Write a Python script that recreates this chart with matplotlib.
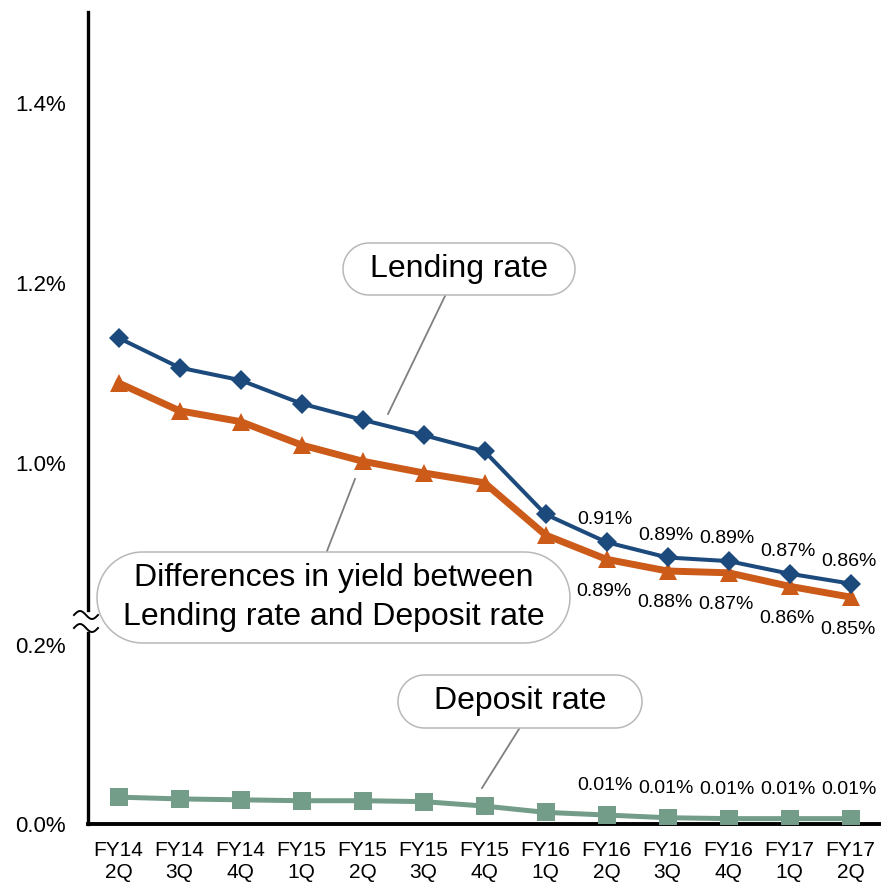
import numpy as np
import matplotlib
matplotlib.use("Agg")
import matplotlib.pyplot as plt
from matplotlib.patches import Polygon
from matplotlib.lines import Line2D
from matplotlib.transforms import IdentityTransform

plt.rcParams["font.family"] = ["Liberation Sans", "DejaVu Sans"]

quarters = ["FY14\n2Q", "FY14\n3Q", "FY14\n4Q", "FY15\n1Q", "FY15\n2Q", "FY15\n3Q", "FY15\n4Q",
            "FY16\n1Q", "FY16\n2Q", "FY16\n3Q", "FY16\n4Q", "FY17\n1Q", "FY17\n2Q"]
lending = [1.139, 1.106, 1.092, 1.066, 1.048, 1.031, 1.013, 0.943, 0.912, 0.895, 0.891, 0.877, 0.866]
spread = [1.089, 1.058, 1.046, 1.020, 1.002, 0.989, 0.978, 0.920, 0.893, 0.880, 0.878, 0.863, 0.851]
deposit = [0.030, 0.028, 0.027, 0.026, 0.026, 0.025, 0.020, 0.013, 0.010, 0.007, 0.006, 0.006, 0.006]
lending_lbl = {8: "0.91%", 9: "0.89%", 10: "0.89%", 11: "0.87%", 12: "0.86%"}
spread_lbl = {8: "0.89%", 9: "0.88%", 10: "0.87%", 11: "0.86%", 12: "0.85%"}
deposit_lbl = {8: "0.01%", 9: "0.01%", 10: "0.01%", 11: "0.01%", 12: "0.01%"}

BLUE, ORANGE, GREEN = "#1d4a7c", "#cc5a19", "#739d88"
W, H = 881, 882
PIX = IdentityTransform()  # display pixels, origin bottom-left (dpi 100 = savefig dpi)


def fx(x):
    return x / W


def fy(y):
    return 1 - y / H


fig = plt.figure(figsize=(W / 100, H / 100), dpi=100)
ax_top = fig.add_axes([fx(88), fy(620), fx(881) - fx(88), fy(12) - fy(620)])
ax_bot = fig.add_axes([fx(88), fy(824), fx(881) - fx(88), fy(620) - fy(824)])

x = np.arange(len(quarters))
ax_top.plot(x, lending, color=BLUE, lw=2.9, marker="D", ms=10.5, mew=0, zorder=4)
ax_top.plot(x, spread, color=ORANGE, lw=5, marker="^", ms=13, mew=0, zorder=3)
ax_bot.plot(x, deposit, color=GREEN, lw=3.6, marker="s", ms=12.5, mew=0, zorder=3)

for i, t in lending_lbl.items():
    ax_top.annotate(t, (x[i], lending[i]), xytext=(-1, 16), textcoords="offset points",
                    ha="center", va="center", fontsize=14)
for i, t in spread_lbl.items():
    ax_top.annotate(t, (x[i], spread[i]), xytext=(-2, -23), textcoords="offset points",
                    ha="center", va="center", fontsize=14)
for i, t in deposit_lbl.items():
    ax_bot.annotate(t, (x[i], deposit[i]), xytext=(-1, 21), textcoords="offset points",
                    ha="center", va="center", fontsize=14)

top_lo = 1.0 - (620 - 463) / 900
top_hi = 1.4 + (103 - 12) / 900
bot_hi = 0.2 + (645 - 620) / 900
ax_top.set_ylim(top_lo, top_hi)
ax_bot.set_ylim(0, bot_hi)
for a in (ax_top, ax_bot):
    a.set_xlim(-0.5, 12.5)
    for s in ("top", "right"):
        a.spines[s].set_visible(False)
    a.spines["left"].set_linewidth(2.4)
    a.tick_params(axis="y", length=0, pad=16, labelsize=16)
    a.set_facecolor("none")

ax_top.spines["bottom"].set_visible(False)
ax_top.set_xticks([])
ax_top.set_yticks([1.0, 1.2, 1.4])
ax_top.set_yticklabels(["1.0%", "1.2%", "1.4%"])
ax_top.spines["left"].set_bounds(1.0 - (610 - 463) / 900, top_hi)

ax_bot.set_yticks([0.0, 0.2])
ax_bot.set_yticklabels(["0.0%", "0.2%"])
ax_bot.set_xticks(x)
ax_bot.set_xticklabels(quarters, fontsize=15, linespacing=1.2)
ax_bot.tick_params(axis="x", length=0, pad=12)
ax_bot.spines["bottom"].set_linewidth(2.8)
ax_bot.spines["left"].set_bounds(0, (824 - 632) / 900)

# axis break mark
xs = np.linspace(74, 98, 40)
for yc in (615, 628):
    ys = yc - 4 * np.sin((xs - 74) / 24 * 2 * np.pi)
    fig.lines.append(Line2D(xs, H - ys, color="black", lw=1.4, transform=PIX))


def stadium(x0, y0, x1, y1):
    # pill shape in top-left pixel coords, returned in display coords
    r = (y1 - y0) / 2
    yc = (y0 + y1) / 2
    t = np.linspace(-np.pi / 2, np.pi / 2, 40)
    right = np.column_stack([x1 - r + r * np.cos(t), yc + r * np.sin(t)])
    left = np.column_stack([x0 + r - r * np.cos(t), yc - r * np.sin(t)])
    pts = np.vstack([right, left])
    pts[:, 1] = H - pts[:, 1]
    return pts


def callout(x0, y0, x1, y1, text, line, size):
    box = Polygon(stadium(x0, y0, x1, y1), closed=True, transform=PIX,
                  facecolor="white", edgecolor="#b8b8b8", lw=1.1, zorder=5)
    fig.patches.append(box)
    (lx0, ly0), (lx1, ly1) = line
    fig.lines.append(Line2D([lx0, lx1], [H - ly0, H - ly1], color="#808080", lw=1.3,
                            transform=PIX, zorder=5))
    fig.text(fx((x0 + x1) / 2), fy((y0 + y1) / 2), text, ha="center", va="center",
             fontsize=size, linespacing=1.35, zorder=6)


callout(343, 243, 575, 295, "Lending rate", ((445, 296), (388, 414)), 23)
callout(97, 552, 570, 643, "Differences in yield between\nLending rate and Deposit rate",
        ((327, 551), (355, 479)), 23)
callout(398, 675, 642, 728, "Deposit rate", ((519, 729), (482, 788)), 23)

fig.savefig("out.png", dpi=100)
